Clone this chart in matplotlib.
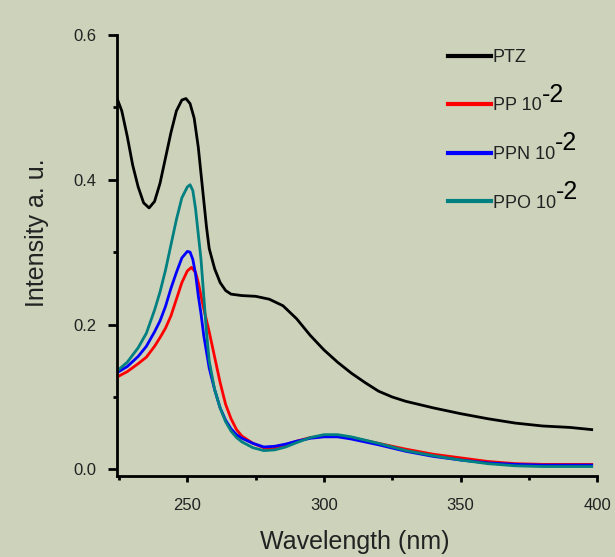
import matplotlib
matplotlib.use("Agg")
import matplotlib.pyplot as plt
from matplotlib.ticker import MultipleLocator

plt.rcParams["font.family"] = ["Liberation Sans", "DejaVu Sans"]

BG = "#cdd2bb"

# wavelength (nm) / intensity
ptz_x = [224, 226, 228, 230, 232, 234, 236, 238, 240, 242, 244, 246, 248, 249.5, 251, 252.5,
         254, 255.5, 257, 258, 260, 262, 264, 266, 270, 275, 280, 285, 290, 295, 300, 305,
         310, 315, 320, 325, 330, 340, 350, 360, 370, 380, 390, 398]
ptz_y = [0.515, 0.495, 0.46, 0.42, 0.39, 0.368, 0.361, 0.37, 0.395, 0.43, 0.465, 0.495, 0.51,
         0.512, 0.505, 0.485, 0.445, 0.39, 0.335, 0.305, 0.277, 0.258, 0.247, 0.242, 0.24,
         0.239, 0.235, 0.226, 0.208, 0.185, 0.165, 0.148, 0.133, 0.12, 0.108, 0.1, 0.094,
         0.085, 0.077, 0.07, 0.064, 0.06, 0.058, 0.055]

pp_x = [224, 228, 232, 235, 238, 240, 242, 244, 246, 248, 250, 251.5, 253, 254, 255, 256, 258,
        260, 262, 264, 266, 268, 270, 274, 278, 282, 286, 290, 295, 300, 305, 310, 320, 330,
        340, 350, 360, 370, 380, 398]
pp_y = [0.127, 0.135, 0.146, 0.155, 0.17, 0.182, 0.195, 0.212, 0.235, 0.258, 0.274, 0.279,
        0.272, 0.258, 0.24, 0.222, 0.19, 0.155, 0.12, 0.09, 0.07, 0.055, 0.046, 0.036, 0.03,
        0.03, 0.034, 0.039, 0.044, 0.046, 0.046, 0.044, 0.036, 0.028, 0.021, 0.016, 0.011,
        0.008, 0.007, 0.007]

ppn_x = [224, 228, 232, 235, 238, 240, 242, 244, 246, 248, 250, 251, 252, 253, 254, 255, 256,
         258, 260, 262, 264, 266, 268, 270, 274, 278, 282, 286, 290, 295, 300, 305, 310, 320,
         330, 340, 350, 360, 370, 380, 398]
ppn_y = [0.133, 0.142, 0.156, 0.17, 0.19, 0.205, 0.225, 0.25, 0.272, 0.292, 0.301, 0.3, 0.29,
         0.27, 0.24, 0.215, 0.185, 0.14, 0.11, 0.085, 0.068, 0.056, 0.048, 0.043, 0.036,
         0.031, 0.032, 0.035, 0.039, 0.043, 0.045, 0.045, 0.042, 0.034, 0.025, 0.018, 0.013,
         0.009, 0.007, 0.006, 0.006]

ppo_x = [224, 228, 232, 235, 238, 240, 242, 244, 246, 248, 250, 251, 252, 253, 254, 255, 256,
         257, 258, 260, 262, 264, 266, 268, 270, 274, 278, 282, 286, 290, 295, 300, 305, 310,
         320, 330, 340, 350, 360, 370, 380, 398]
ppo_y = [0.135, 0.148, 0.168, 0.188, 0.22, 0.245, 0.275, 0.31, 0.345, 0.375, 0.39, 0.393,
         0.385, 0.36, 0.325, 0.29, 0.24, 0.19, 0.15, 0.11, 0.085, 0.066, 0.053, 0.044, 0.038,
         0.03, 0.026, 0.027, 0.031, 0.037, 0.044, 0.048, 0.048, 0.045, 0.036, 0.026, 0.019,
         0.013, 0.008, 0.005, 0.004, 0.004]

series = [
    (ptz_x, ptz_y, "black", "PTZ", ""),
    (pp_x, pp_y, "#ff0000", "PP 10", "-2"),
    (ppn_x, ppn_y, "#0000ff", "PPN 10", "-2"),
    (ppo_x, ppo_y, "#008080", "PPO 10", "-2"),
]

fig = plt.figure(figsize=(6.15, 5.57), dpi=100, facecolor=BG)
ax = fig.add_axes([0.190, 0.1455, 0.781, 0.792])
ax.set_facecolor(BG)

for x, y, c, lab, sup in series:
    ax.plot(x, y, color=c, lw=2.0, label=lab)

ax.set_xlim(224.2, 400)
ax.set_ylim(-0.009, 0.6)
ax.xaxis.set_major_locator(MultipleLocator(50))
ax.xaxis.set_minor_locator(MultipleLocator(25))
ax.yaxis.set_major_locator(MultipleLocator(0.2))
ax.yaxis.set_minor_locator(MultipleLocator(0.1))
ax.yaxis.set_major_formatter(plt.FormatStrFormatter("%.1f"))

for s in ["top", "right"]:
    ax.spines[s].set_visible(False)
for s in ["left", "bottom"]:
    ax.spines[s].set_linewidth(2.0)

ax.tick_params(which="major", direction="out", width=2, labelsize=12, labelcolor="#222222")
ax.tick_params(axis="y", which="major", length=6.5, pad=8)
ax.tick_params(axis="x", which="major", length=4, pad=12)
ax.tick_params(which="minor", direction="out", length=3, width=2)

ax.set_xlabel("Wavelength (nm)", fontsize=18, color="#222222")
ax.set_ylabel("Intensity a. u.", fontsize=18, color="#222222")
ax.yaxis.set_label_coords(-0.142, 0.551)
ax.xaxis.set_label_coords(0.495, -0.122)

leg = ax.legend(loc="upper left", bbox_to_anchor=(0.655, 1.005), frameon=False, fontsize=13,
                handlelength=2.4, handletextpad=0.1, labelspacing=1.75)
for txt, (_, _, _, _, sup) in zip(leg.get_texts(), series):
    txt.set_color("#222222")
    if sup:
        ax.annotate(sup, xy=(1.0, 0.45), xycoords=txt, fontsize=18, color="black",
                    va="bottom", ha="left", annotation_clip=False, zorder=10)
for h in leg.legend_handles:
    h.set_linewidth(3)

fig.savefig("out.png", dpi=100, facecolor=BG)
